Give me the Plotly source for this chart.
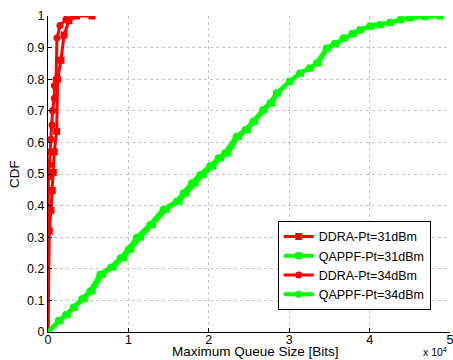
import plotly.graph_objects as go

# ---- data (bits, CDF) ----
ddra31_x = [0, 160, 370, 530, 660, 780, 1080, 1200, 1610, 2000, 2600, 3560, 5470]
ddra31_y = [0, 0.32, 0.385, 0.448, 0.505, 0.57, 0.635, 0.80, 0.86, 0.94, 0.985, 1.0, 1.0]

ddra34_x = [0, 20, 40, 160, 250, 370, 500, 560, 780, 800, 1000, 1120, 1490, 2240, 3230]
ddra34_y = [0, 0.45, 0.49, 0.53, 0.57, 0.61, 0.655, 0.70, 0.74, 0.78, 0.80, 0.93, 0.97, 0.99, 1.0]

qappf34_x = [0, 1280, 2200, 3140, 4200, 5210, 6450, 7800, 9000, 9970, 11000, 12670, 14300, 15980,
             16800, 17850, 18870, 20100, 21150, 21980, 23400, 24500, 25500, 26700, 27600, 28400,
             30000, 31300, 32500, 33400, 34600, 35600, 36700, 37800, 38750, 40000, 41200, 42500,
             43800, 45000, 46800, 48700]
qappf34_y = [0, 0.036, 0.055, 0.078, 0.105, 0.13, 0.183, 0.205, 0.235, 0.262, 0.30, 0.34, 0.388, 0.414,
             0.44, 0.472, 0.498, 0.525, 0.551, 0.567, 0.619, 0.64, 0.667, 0.703, 0.725, 0.756,
             0.793, 0.819, 0.835, 0.851, 0.898, 0.912, 0.93, 0.945, 0.956, 0.968, 0.972, 0.979,
             0.988, 0.994, 0.998, 1.0]

qappf31_x = [0, 1500, 2400, 3300, 4500, 5500, 6800, 8100, 9400, 10300, 11500, 13000, 14700, 16300,
             17200, 18300, 19300, 20500, 21500, 22400, 23700, 24800, 25700, 26900, 27800, 28600,
             30100, 31400, 32600, 33600, 34800, 35800, 36900, 38000, 38900, 40200, 41400, 42600,
             43900, 45100, 46900, 48700]
qappf31_y = qappf34_y

legend_names = ["DDRA-Pt=31dBm", "QAPPF-Pt=31dBm", "DDRA-Pt=34dBm", "QAPPF-Pt=34dBm"]
x_title = "Maximum Queue Size [Bits]"
y_title = "CDF"
x_tick_vals = [0, 10000, 20000, 30000, 40000, 50000]
x_tick_text = ["0", "1", "2", "3", "4", "5"]
y_tick_vals = [0, 0.1, 0.2, 0.3, 0.4, 0.5, 0.6, 0.7, 0.8, 0.9, 1]
y_tick_text = ["0", "0.1", "0.2", "0.3", "0.4", "0.5", "0.6", "0.7", "0.8", "0.9", "1"]

RED = "#ff0000"
GREEN = "#00ff00"

fig = go.Figure()
series = [
    (ddra31_x, ddra31_y, legend_names[0], RED, "square", 3),
    (qappf31_x, qappf31_y, legend_names[1], GREEN, "square", 4),
    (ddra34_x, ddra34_y, legend_names[2], RED, "circle", 3),
    (qappf34_x, qappf34_y, legend_names[3], GREEN, "circle", 4),
]
for xs, ys, name, col, sym, lw in series:
    fig.add_trace(go.Scatter(
        x=xs, y=ys, name=name, mode="lines+markers",
        line=dict(color=col, width=lw),
        marker=dict(color=col, symbol=sym, size=7, line=dict(width=0)),
    ))

FAM = "Liberation Sans, Arial, sans-serif"
tick_fnt = dict(family=FAM, size=12.5, color="black")
title_fnt = dict(family=FAM, size=13.5, color="black")

fig.update_layout(
    width=453, height=360,
    margin=dict(l=48, r=3, t=16, b=28, autoexpand=False),
    paper_bgcolor="white", plot_bgcolor="white",
    font=tick_fnt,
    showlegend=True,
    legend=dict(x=0.952, y=0.07, xanchor="right", yanchor="bottom",
                bgcolor="white", bordercolor="black", borderwidth=1,
                font=dict(family=FAM, size=12.5, color="black"),
                tracegroupgap=0, itemwidth=30),
    xaxis=dict(range=[0, 50000], tickvals=x_tick_vals, ticktext=x_tick_text,
               showgrid=True, gridcolor="#c4c4c4", griddash="dot", gridwidth=1,
               showline=True, linecolor="black", linewidth=1,
               ticks="inside", ticklen=4, tickcolor="black",
               ticklabelstandoff=-4,
               ticklabeloverflow="allow", tickfont=tick_fnt, automargin=False,
               zeroline=False, mirror=False),
    yaxis=dict(range=[0, 1], tickvals=y_tick_vals, ticktext=y_tick_text,
               showgrid=True, gridcolor="#c4c4c4", griddash="dot", gridwidth=1,
               showline=True, linecolor="black", linewidth=1,
               ticks="inside", ticklen=4, tickcolor="black",
               tickfont=tick_fnt, automargin=False,
               zeroline=False, mirror=False,
               title=dict(text=y_title, standoff=4, font=title_fnt)),
)
fig.add_annotation(text=x_title, xref="paper", yref="paper",
                   x=0.515, y=-0.092, xanchor="center", yanchor="bottom",
                   showarrow=False, font=title_fnt)
fig.add_annotation(text="x 10<sup>4</sup>", xref="paper", yref="paper",
                   x=0.998, y=-0.09, xanchor="right", yanchor="bottom",
                   showarrow=False, font=dict(family=FAM, size=10.5, color="black"))

fig.write_html("out.html")
